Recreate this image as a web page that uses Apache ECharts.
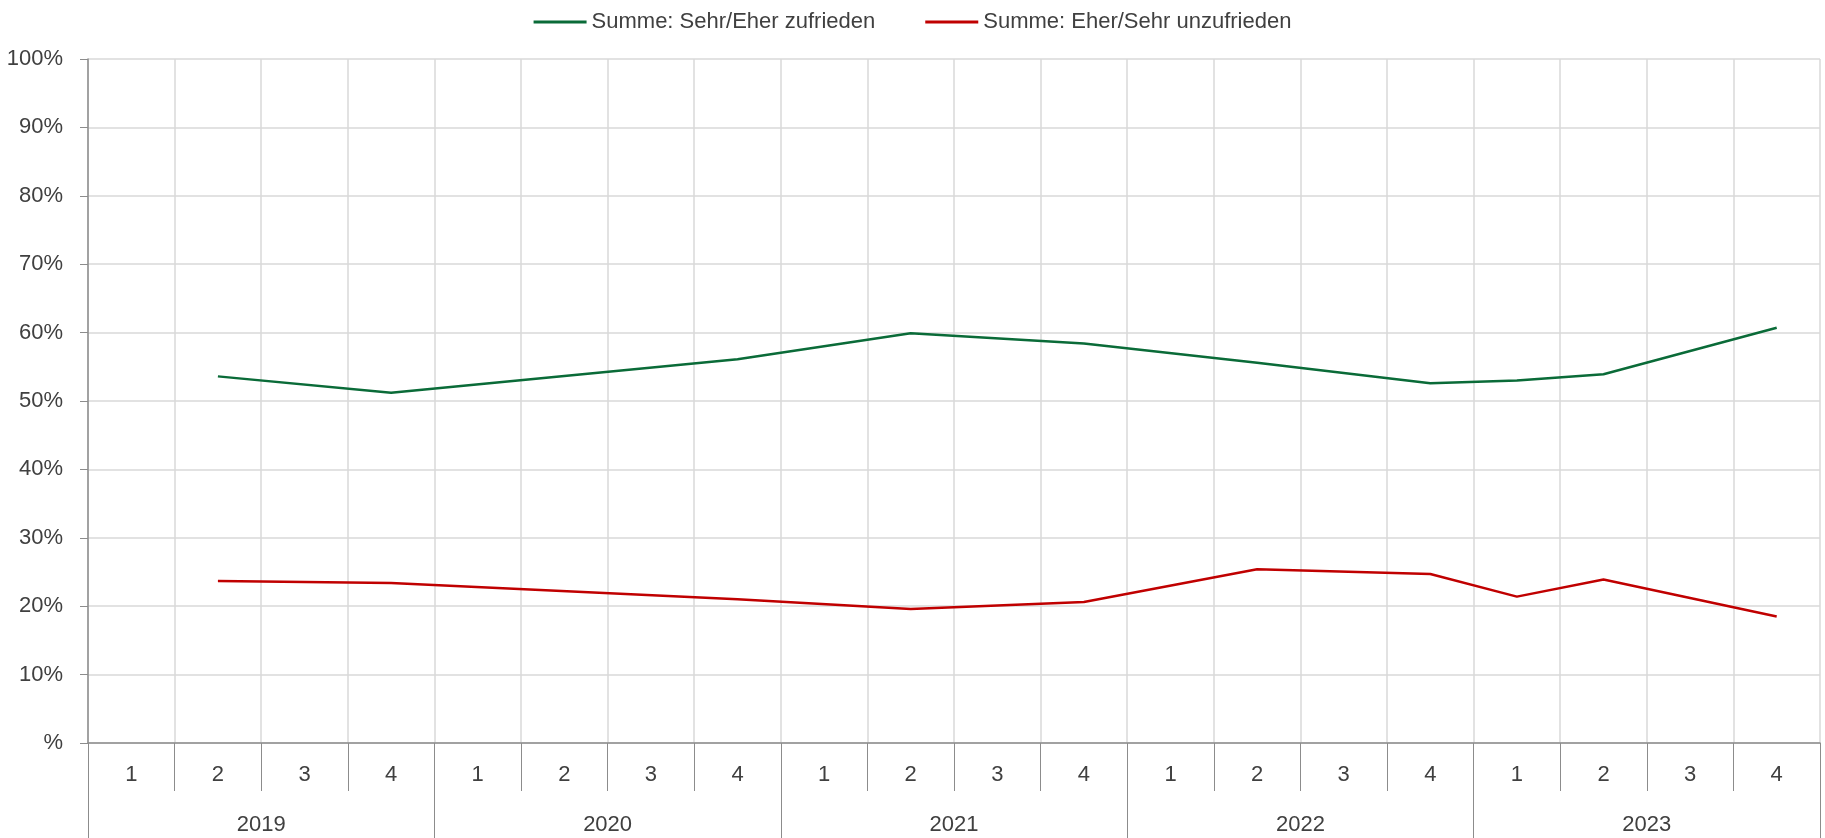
<!DOCTYPE html>
<html>
<head>
<meta charset="utf-8">
<title>Zufriedenheit</title>
<script src="https://cdn.jsdelivr.net/npm/echarts@6/dist/echarts.min.js"></script>
<style>
    html, body { margin: 0; padding: 0; background: #fff; }
    #line-chart { width: 1825px; height: 838px; }
</style>
</head>
<body>
<div id="line-chart"></div>
<script>
var years = ['2019', '2020', '2021', '2022', '2023'];
var quarters = ['1', '2', '3', '4'];

// Werte in %, fehlende Quartale = null
var zufrieden = [null, 53.6, null, 51.2, null, null, null, 56.1, null, 59.9, null, 58.4, null, 55.6, null, 52.6, 53.0, 53.9, null, 60.7];
var unzufrieden = [null, 23.7, null, 23.4, null, null, null, 21.0, null, 19.6, null, 20.6, null, 25.4, null, 24.7, 21.4, 23.9, null, 18.5];

var yTicks = [0, 10, 20, 30, 40, 50, 60, 70, 80, 90, 100];

var $green = '#0a6b38';
var $red = '#c00000';
var $text = '#404040';
var $axis = '#8c8c8c';
var $grid = '#d9d9d9';
var $font = "'Liberation Sans', Arial, sans-serif";

var categories = [];
years.forEach(function (y) {
    quarters.forEach(function (q) {
        categories.push(y + '-' + q);
    });
});

var lineChart = echarts.init(document.getElementById('line-chart'));

var lineChartoption = {
    animation: false,
    textStyle: { fontFamily: $font },
    legend: {
        top: 6,
        left: 'center',
        itemWidth: 53,
        itemHeight: 3,
        itemGap: 50,
        textStyle: { fontSize: 22, color: $text, fontFamily: $font },
        data: [
            { name: 'Summe: Sehr/Eher zufrieden', icon: 'rect' },
            { name: 'Summe: Eher/Sehr unzufrieden', icon: 'rect' }
        ]
    },
    grid: {
        left: 88,
        right: 5,
        top: 59,
        bottom: 95,
        containLabel: false,
        outerBoundsMode: 'none'
    },
    xAxis: [
        {
            type: 'category',
            position: 'bottom',
            data: categories,
            boundaryGap: true,
            axisLine: { show: true, lineStyle: { color: $axis, width: 1.5 } },
            axisTick: { show: true, interval: 0, length: 48, lineStyle: { color: $axis, width: 1 } },
            axisLabel: {
                interval: 0,
                margin: 21,
                fontSize: 22,
                color: $text,
                formatter: function (v) { return v.split('-')[1]; }
            },
            splitLine: { show: true, interval: 0, lineStyle: { color: $grid, width: 1.5 } }
        },
        {
            type: 'category',
            position: 'bottom',
            data: years,
            boundaryGap: true,
            axisLine: { show: false },
            axisTick: { show: true, interval: 0, length: 96, lineStyle: { color: $axis, width: 1 } },
            axisLabel: { interval: 0, margin: 71, fontSize: 22, color: $text },
            splitLine: { show: false }
        }
    ],
    yAxis: {
        type: 'value',
        min: yTicks[0],
        max: yTicks[yTicks.length - 1],
        interval: 10,
        axisLine: { show: true, lineStyle: { color: $axis, width: 1.5 } },
        axisTick: { show: true, length: 8, lineStyle: { color: $axis, width: 1 } },
        axisLabel: {
            margin: 25,
            fontSize: 22,
            color: $text,
            formatter: function (v) { return v === 0 ? '%' : v + '%'; }
        },
        splitLine: { show: true, lineStyle: { color: $grid, width: 1.5 } }
    },
    series: [
        {
            name: 'Summe: Sehr/Eher zufrieden',
            type: 'line',
            xAxisIndex: 0,
            data: zufrieden,
            connectNulls: true,
            showSymbol: false,
            color: $green,
            lineStyle: { color: $green, width: 2.5 }
        },
        {
            name: 'Summe: Eher/Sehr unzufrieden',
            type: 'line',
            xAxisIndex: 0,
            data: unzufrieden,
            connectNulls: true,
            showSymbol: false,
            color: $red,
            lineStyle: { color: $red, width: 2.5 }
        }
    ]
};

lineChart.setOption(lineChartoption);
</script>
</body>
</html>
